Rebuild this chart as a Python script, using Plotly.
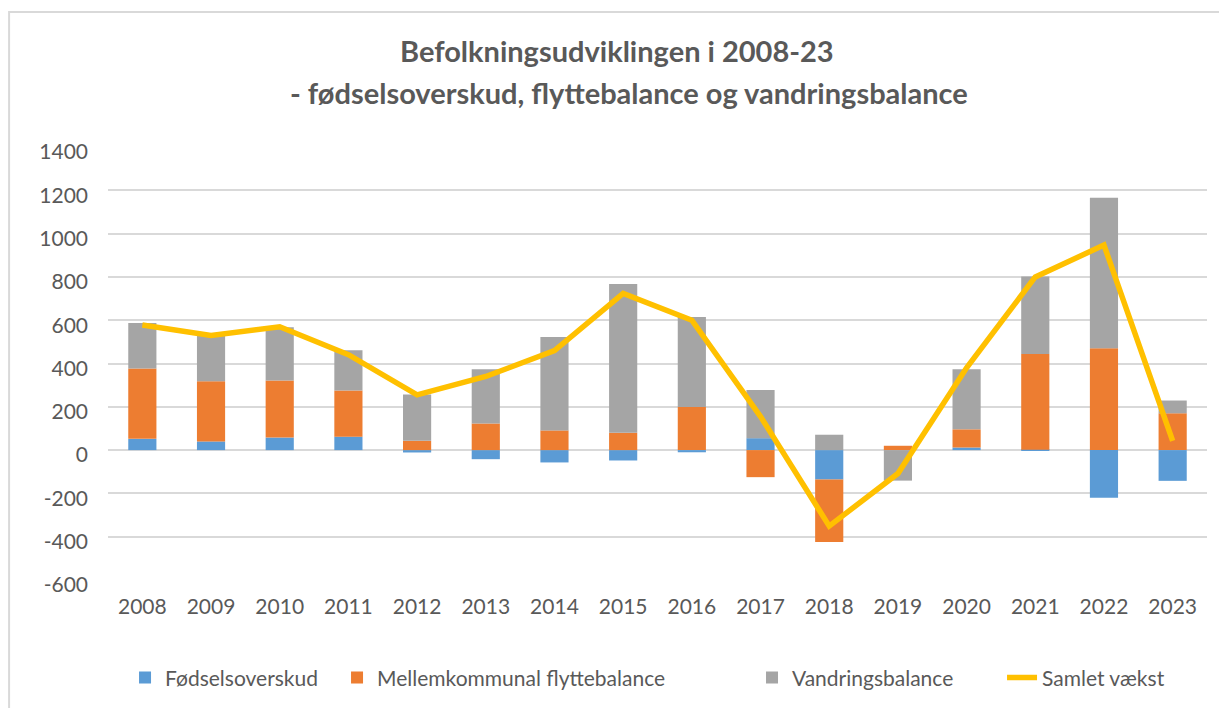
import plotly.graph_objects as go

years = ["2008", "2009", "2010", "2011", "2012", "2013", "2014", "2015",
         "2016", "2017", "2018", "2019", "2020", "2021", "2022", "2023"]
foedselsoverskud = [52, 40, 58, 62, -11, -42, -57, -48, -10, 55, -136, 0, 12, 2, -220, -142]
flyttebalance = [325, 278, 264, 213, 43, 123, 91, 80, 199, -125, -288, 20, 84, 442, 470, 170]
vandringsbalance = [210, 210, 245, 186, 214, 250, 431, 687, 416, 223, 71, -141, 277, 358, 696, 59]
samlet_vaekst = [578, 530, 570, 441, 255, 340, 460, 724, 600, 155, -351, -108, 380, 800, 947, 43]

y_tickvals = [-600, -400, -200, 0, 200, 400, 600, 800, 1000, 1200, 1400]
y_ticktext = ["-600", "-400", "-200", "0", "200", "400", "600", "800", "1000", "1200", "1400"]

title_line1 = "Befolkningsudviklingen i 2008-23"
title_line2 = "- fødselsoverskud, flyttebalance og vandringsbalance"

FONT = "Lato, 'Open Sans', sans-serif"
TXT = "#595959"

fig = go.Figure()
fig.add_trace(go.Bar(x=years, y=foedselsoverskud, name="Fødselsoverskud", legend="legend",
                     marker=dict(color="#5B9BD5", line_width=0)))
fig.add_trace(go.Bar(x=years, y=flyttebalance, name="Mellemkommunal flyttebalance", legend="legend2",
                     marker=dict(color="#ED7D31", line_width=0)))
fig.add_trace(go.Bar(x=years, y=vandringsbalance, name="Vandringsbalance", legend="legend3",
                     marker=dict(color="#A5A5A5", line_width=0)))
fig.add_trace(go.Scatter(x=years, y=samlet_vaekst, name="Samlet vækst", mode="lines", legend="legend4",
                         line=dict(color="#FFC000", width=5.5)))

def leg(x):
    return dict(orientation="h", x=x, xanchor="left", y=-0.226, yanchor="middle",
                font=dict(size=21, color=TXT, family=FONT), bgcolor="rgba(0,0,0,0)")

fig.update_layout(
    width=1227, height=708,
    barmode="relative", bargap=0.59,
    paper_bgcolor="white", plot_bgcolor="white",
    margin=dict(l=100, r=28, t=139, b=136),
    font=dict(family=FONT, color=TXT, size=18),
    showlegend=True,
    legend=leg(0.0155), legend2=leg(0.2084), legend3=leg(0.586), legend4=leg(0.8135),
    xaxis=dict(showgrid=False, showline=False, ticks="", tickfont=dict(size=21, color=TXT),
               ticklabelstandoff=12),
    yaxis=dict(range=[-600, 1400], tickvals=y_tickvals, ticktext=y_ticktext,
               showgrid=True, gridcolor="#D9D9D9",
               gridwidth=1.5, zeroline=True, zerolinecolor="#D9D9D9", zerolinewidth=1.5,
               showline=False, ticks="", tickfont=dict(size=21, color=TXT),
               ticklabelstandoff=19, ticklabelshift=5),
    annotations=[
        dict(text="<b>" + title_line1 + "</b>", xref="paper", yref="paper",
             x=0.4636, y=1.224, xanchor="center", yanchor="middle", showarrow=False,
             font=dict(size=29, color=TXT, family=FONT)),
        dict(text="<b>" + title_line2 + "</b>", xref="paper", yref="paper",
             x=0.474, y=1.127, xanchor="center", yanchor="middle", showarrow=False,
             font=dict(size=29, color=TXT, family=FONT)),
    ],
    shapes=[dict(type="rect", xref="paper", yref="paper", x0=-0.090, x1=1.1,
                 y0=-0.4, y1=1.3118, line=dict(color="#D9D9D9", width=2),
                 fillcolor="rgba(0,0,0,0)", layer="below")],
)

fig.write_html("out.html")
